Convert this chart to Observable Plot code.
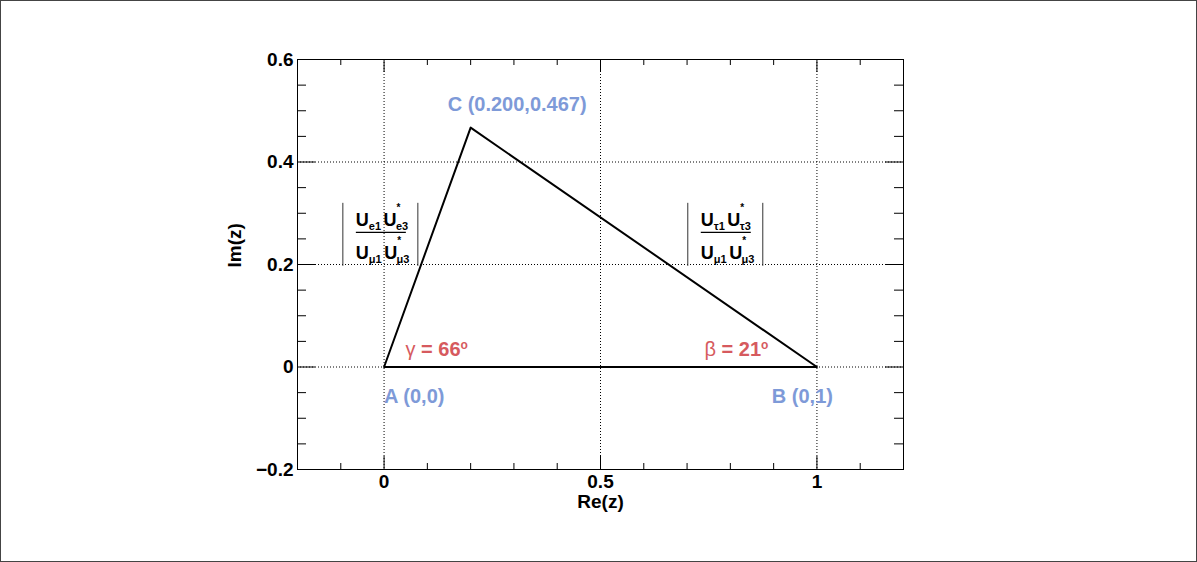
<!DOCTYPE html>
<html><head><meta charset="utf-8">
<script src="https://cdn.jsdelivr.net/npm/d3@7"></script>
<script src="https://cdn.jsdelivr.net/npm/@observablehq/plot@0.6"></script>
<style>
html,body{margin:0;padding:0;background:#fff;overflow:hidden;}
#chart svg{display:block;outline:1px solid #444;outline-offset:-1px;}
</style></head><body><div id="chart"></div>
<script>
// ---- data ----
const vertexNames = ["A", "B", "C"];
const vertexRe = [0, 1, 0.2];
const vertexIm = [0, 0, 0.467];
const vertexLabels = ["A (0,0)", "B (0,1)", "C (0.200,0.467)"];
const triangleOrder = ["A", "B", "C", "A"];
const angleVertices = ["A", "B"];
const angleSymbols = ["γ", "β"];
const angleDegrees = [66, 21];
const sideEnds = [["A", "C"], ["B", "C"]];
const ratioNumSubs = [["e1", "e3"], ["τ1", "τ3"]];
const ratioDenSubs = [["μ1", "μ3"], ["μ1", "μ3"]];
const xTickValues = [0, 0.5, 1];
const xTickLabels = ["0", "0.5", "1"];
const xMinorTicks = [-0.1, 0.1, 0.2, 0.3, 0.4, 0.6, 0.7, 0.8, 0.9, 1.1];
const yTickValues = [-0.2, 0, 0.2, 0.4, 0.6];
const yTickLabels = ["\u22120.2", "0", "0.2", "0.4", "0.6"];
const yMinorTicks = [-0.15, -0.1, -0.05, 0.05, 0.1, 0.15, 0.25, 0.3, 0.35, 0.45, 0.5, 0.55];
const xTitle = "Re(z)";
const yTitle = "Im(z)";

// ---- style ----
const FONT = "'Liberation Sans', Arial, Helvetica, sans-serif";
const BLUE = "#7e9ad8";
const RED = "#d65a5e";
const W = 1197, H = 562, ML = 297, MR = 294, MT = 59, MB = 93;
const innerW = W - ML - MR, innerH = H - MT - MB;

const vIdx = n => vertexNames.indexOf(n);
const labelStyle = {
  A: {textAnchor: "start", dx: 0, dy: 29.5},
  B: {textAnchor: "end", dx: 16, dy: 29.5},
  C: {textAnchor: "middle", dx: 46.5, dy: -23.5}
};

function angleMark(index, scales) {
  const g = d3.create("svg:g").attr("font-family", FONT).attr("fill", RED).attr("font-size", 20);
  angleVertices.forEach((v, i) => {
    const k = vIdx(v);
    const px = scales.x(vertexRe[k]), py = scales.y(vertexIm[k]);
    const start = i === 0;
    const t = g.append("text")
      .attr("x", start ? px + 22 : px - 48)
      .attr("y", py - 10.5)
      .attr("text-anchor", start ? "start" : "end")
      .style("white-space", "pre");
    t.append("tspan").attr("font-weight", "normal").text(angleSymbols[i]);
    t.append("tspan").attr("font-weight", "bold").text(" = " + angleDegrees[i]);
    t.append("tspan").attr("font-weight", "bold").attr("font-size", 12).attr("dy", -7).text("o");
  });
  return g.node();
}

function fracRow(g, x, y, subs) {
  const t = g.append("text").attr("x", x).attr("y", y).attr("text-anchor", "start")
    .attr("font-size", 18).attr("font-weight", "bold").attr("fill", "black");
  t.append("tspan").text("U");
  t.append("tspan").attr("font-size", 11).attr("dy", 4).text(subs[0]);
  t.append("tspan").attr("dx", 2.5).attr("dy", -4).text("U");
  t.append("tspan").attr("font-size", 10).attr("dy", -15).text("*");
  t.append("tspan").attr("font-size", 11).attr("dx", -4.5).attr("dy", 19).text(subs[1]);
}

function ratioMark(index, scales) {
  const g = d3.create("svg:g").attr("font-family", FONT).attr("text-anchor", "start");
  sideEnds.forEach(([p, q], i) => {
    const a = vIdx(p), b = vIdx(q);
    const mx = scales.x((vertexRe[a] + vertexRe[b]) / 2);
    const my = scales.y((vertexIm[a] + vertexIm[b]) / 2);
    const ox = i === 0 ? mx - 84 : mx + 44.5;
    const oy = my - 14.5;
    for (const bx of [ox, ox + 75]) {
      g.append("line").attr("x1", bx).attr("x2", bx).attr("y1", oy - 29.5).attr("y2", oy + 33.5)
        .attr("stroke", "#333").attr("stroke-width", 1);
    }
    g.append("line").attr("x1", ox + 13).attr("x2", ox + 63).attr("y1", oy).attr("y2", oy)
      .attr("stroke", "black").attr("stroke-width", 1.3);
    fracRow(g, ox + 13, oy - 6, ratioNumSubs[i]);
    fracRow(g, ox + 13, oy + 27, ratioDenSubs[i]);
  });
  return g.node();
}

const chart = Plot.plot({
  width: W, height: H,
  marginLeft: ML, marginRight: MR, marginTop: MT, marginBottom: MB,
  x: {domain: [-0.2, 1.2]},
  y: {domain: [-0.2, 0.6]},
  style: {fontFamily: FONT, fontSize: "19px", fontWeight: "bold", background: "white", color: "black", overflow: "visible"},
  marks: [
    Plot.gridX(xTickValues, {stroke: "black", strokeOpacity: 1, strokeDasharray: "1,2"}),
    Plot.gridY(yTickValues, {stroke: "black", strokeOpacity: 1, strokeDasharray: "1,2"}),
    Plot.frame({stroke: "black", strokeWidth: 1}),
    // ticks (inward, on all four sides)
    Plot.ruleX(xTickValues, {stroke: "black", insetTop: innerH - 13}),
    Plot.ruleX(xTickValues, {stroke: "black", insetBottom: innerH - 13}),
    Plot.ruleX(xMinorTicks, {stroke: "black", insetTop: innerH - 6}),
    Plot.ruleX(xMinorTicks, {stroke: "black", insetBottom: innerH - 6}),
    Plot.ruleY(yTickValues, {stroke: "black", insetRight: innerW - 18}),
    Plot.ruleY(yTickValues, {stroke: "black", insetLeft: innerW - 18}),
    Plot.ruleY(yMinorTicks, {stroke: "black", insetRight: innerW - 9}),
    Plot.ruleY(yMinorTicks, {stroke: "black", insetLeft: innerW - 9}),
    Plot.axisX(xTickValues, {anchor: "bottom", tickSize: 0, tickPadding: 5, label: null,
      tickFormat: d => xTickLabels[xTickValues.indexOf(d)], fontSize: 19, fontWeight: "bold"}),
    Plot.axisY(yTickValues, {anchor: "left", tickSize: 0, tickPadding: 4, label: null,
      tickFormat: d => yTickLabels[yTickValues.indexOf(d)], fontSize: 19, fontWeight: "bold"}),
    Plot.text([xTitle], {frameAnchor: "bottom", lineAnchor: "middle", text: d => d, dy: 32, fontSize: 19, fontWeight: "bold"}),
    Plot.text([yTitle], {frameAnchor: "left", lineAnchor: "middle", text: d => d, rotate: -90, dx: -63, dy: 3, fontSize: 19, fontWeight: "bold"}),
    // triangle
    Plot.line(triangleOrder, {x: n => vertexRe[vIdx(n)], y: n => vertexIm[vIdx(n)], stroke: "black", strokeWidth: 2}),
    // vertex labels
    ...vertexNames.map((n, i) => Plot.text([i], {
      x: j => vertexRe[j], y: j => vertexIm[j], text: j => vertexLabels[j],
      fill: BLUE, fontSize: 20, fontWeight: "bold", ...labelStyle[n]
    })),
    angleMark,
    ratioMark
  ]
});
document.getElementById("chart").appendChild(chart);
</script>
</body></html>
